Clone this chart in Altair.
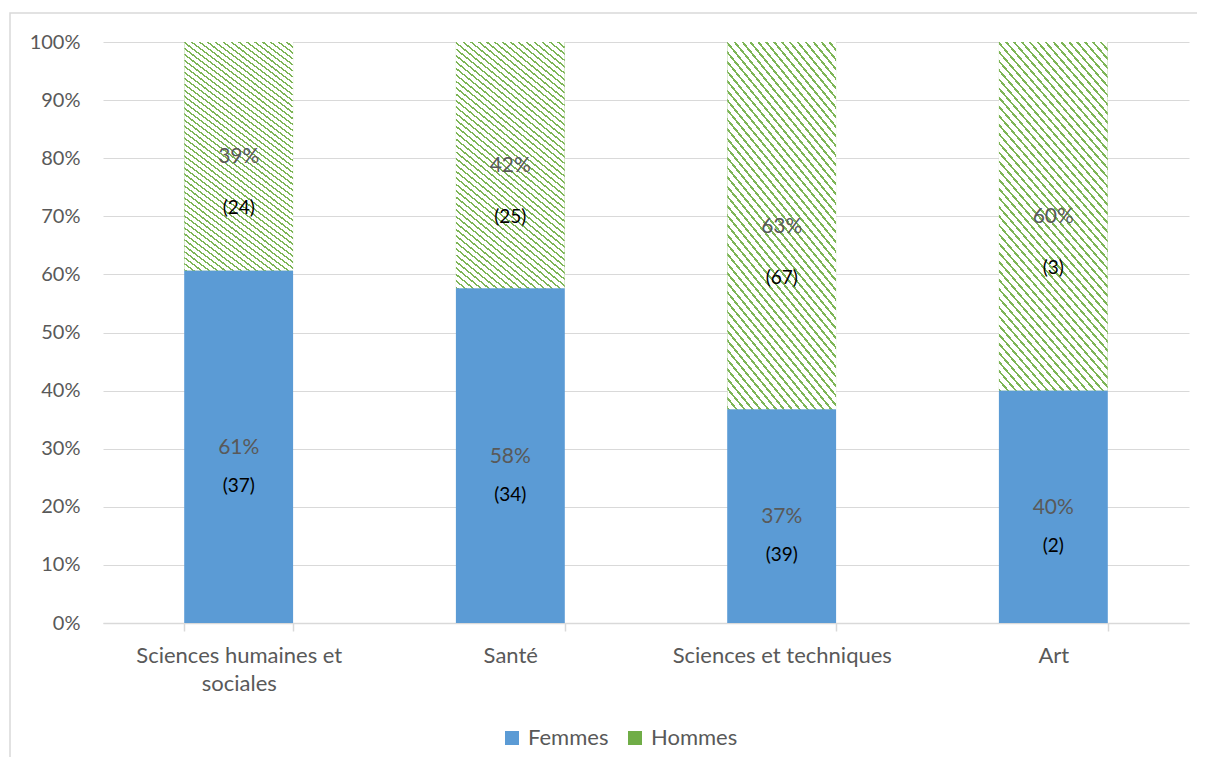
import altair as alt
import pandas as pd

categories = ["Sciences humaines et sociales", "Santé", "Sciences et techniques", "Art"]
femmes = [37, 34, 39, 2]
hommes = [24, 25, 67, 3]
series = ["Femmes", "Hommes"]

rows = []
for c, f, h in zip(categories, femmes, hommes):
    rows.append({"cat": c, "sexe": "Femmes", "n": f, "ord": 0})
    rows.append({"cat": c, "sexe": "Hommes", "n": h, "ord": 1})
df = pd.DataFrame(rows)

BLUE = "#5b9bd5"
GREEN = "#70ad47"
GRAY = "#d9d9d9"
TXT = "#595959"
FONT = "Lato"

# diagonal stripe texture (approximation of the Excel pattern fill)
STRIPE = "#7db556"
nstripes = 52
stops = []
for i in range(nstripes):
    a = i / nstripes
    b = (i + 0.3) / nstripes
    e = (i + 1) / nstripes
    stops += [{"offset": a, "color": STRIPE}, {"offset": b, "color": STRIPE},
              {"offset": b, "color": "#ffffff"}, {"offset": e, "color": "#ffffff"}]
pattern = {"gradient": "linear", "x1": 0, "y1": 1, "x2": 0.433, "y2": -0.204, "stops": stops}

x_enc = alt.X("cat:N", sort=categories, title=None,
              scale=alt.Scale(paddingInner=0.6, paddingOuter=0.3),
              axis=alt.Axis(labelAngle=0, labelFontSize=22, labelColor=TXT, labelFont=FONT,
                            labelPadding=14, labelLineHeight=28, labelLimit=400,
                            labelExpr="datum.label == 'Sciences humaines et sociales' ? ['Sciences humaines et', 'sociales'] : datum.label",
                            domainColor=GRAY, domainWidth=1.5, tickColor=GRAY, tickWidth=1.5,
                            tickSize=8, tickBand="extent", grid=False))
y_enc = alt.Y("n:Q", stack="normalize", title=None,
              scale=alt.Scale(domain=[0, 1], nice=False),
              axis=alt.Axis(format=".0%", values=[i / 10 for i in range(11)], labelFontSize=20,
                            labelColor=TXT, labelFont=FONT, labelPadding=23, ticks=False,
                            domain=False, gridColor=GRAY, gridWidth=1.2))

bars_legend = alt.Chart(df).mark_bar().encode(
    x=x_enc,
    y=y_enc,
    color=alt.Color("sexe:N", scale=alt.Scale(domain=series, range=[BLUE, GREEN]),
                    legend=alt.Legend(title=None, orient="none", direction="horizontal",
                                      legendX=398, legendY=685, padding=0, symbolType="square",
                                      symbolSize=196, symbolStrokeWidth=0,
                                      labelFontSize=22, labelColor=TXT, labelFont=FONT,
                                      columnPadding=15, labelOffset=5)),
    order=alt.Order("ord:Q"),
)

bars = alt.Chart(df).mark_bar().encode(
    x=alt.X("cat:N", sort=categories),
    y=alt.Y("n:Q", stack="normalize"),
    fill=alt.condition(alt.datum.sexe == "Hommes", alt.value(pattern), alt.value(BLUE)),
    order=alt.Order("ord:Q"),
)

base = alt.Chart(df).transform_stack(
    stack="n", groupby=["cat"], as_=["y0", "y1"], offset="normalize",
    sort=[alt.SortField("ord", order="ascending")]
).transform_calculate(
    mid="(datum.y0 + datum.y1) / 2",
    pct="round((datum.y1 - datum.y0) * 100) + '%'",
    cnt="'(' + datum.n + ')'",
)

ysc = alt.Scale(domain=[0, 1], nice=False)
pct_text = base.mark_text(fontSize=21, color=TXT, font=FONT, baseline="middle", dy=1).encode(
    x=alt.X("cat:N", sort=categories),
    y=alt.Y("mid:Q", scale=ysc),
    text="pct:N",
)
cnt_f = base.transform_filter(alt.datum.sexe == "Femmes").mark_text(
    fontSize=19, color="#000000", font=FONT, baseline="middle", dy=39).encode(
    x=alt.X("cat:N", sort=categories), y=alt.Y("mid:Q", scale=ysc), text="cnt:N")
cnt_h = base.transform_filter(alt.datum.sexe == "Hommes").mark_text(
    fontSize=19, color="#000000", font=FONT, baseline="middle", dy=52).encode(
    x=alt.X("cat:N", sort=categories), y=alt.Y("mid:Q", scale=ysc), text="cnt:N")

frame = alt.Chart(alt.Data(values=[{"k": 1}])).mark_rect(
    fill=None, stroke=GRAY, strokeWidth=1.5).encode(
    x=alt.value(-93), x2=alt.value(1130), y=alt.value(-29), y2=alt.value(800))

chart = alt.layer(frame, bars_legend, bars, pct_text, cnt_f, cnt_h).properties(
    width=1086, height=581,
    autosize=alt.AutoSizeParams(type="none"),
    padding={"left": 95, "top": 34, "right": 8, "bottom": 134},
    background="white",
).configure_view(stroke=None)

chart.save("out.html", embed_options={"renderer": "svg", "actions": False})
